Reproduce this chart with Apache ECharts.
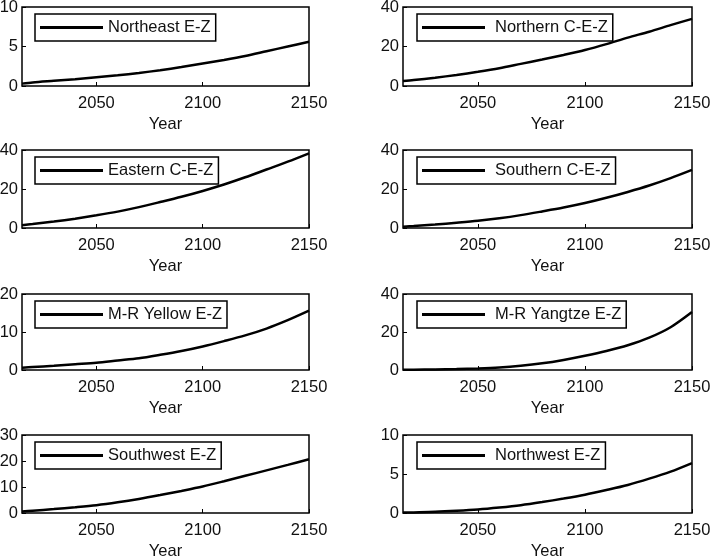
<!DOCTYPE html>
<html>
<head>
<meta charset="utf-8">
<script src="https://cdn.jsdelivr.net/npm/echarts@6/dist/echarts.min.js"></script>
<style>
  html, body { margin: 0; padding: 0; background: #fff; }
  #chart { width: 712px; height: 559px; }
</style>
</head>
<body>
<div id="chart"></div>
<script>
// years sampled along the curves
var years = [2015, 2020, 2030, 2040, 2050, 2060, 2070, 2080, 2090, 2100, 2110, 2120, 2130, 2140, 2150];
var xTicks = [2050, 2100, 2150];

var northeast = [0.3, 0.45, 0.65, 0.85, 1.1, 1.35, 1.65, 2.0, 2.4, 2.85, 3.3, 3.8, 4.4, 5.0, 5.6];
var northern  = [2.5, 3.0, 4.2, 5.6, 7.2, 9.0, 11.2, 13.4, 15.7, 18.2, 21.2, 24.5, 27.5, 30.8, 34.0];
var eastern   = [1.4, 2.0, 3.3, 4.8, 6.5, 8.4, 10.7, 13.3, 16.0, 19.0, 22.3, 26.0, 30.0, 34.0, 38.3];
var southern  = [0.7, 1.0, 1.8, 2.7, 3.7, 5.0, 6.6, 8.5, 10.5, 12.8, 15.5, 18.5, 21.8, 25.6, 29.8];
var yellow    = [0.6, 0.8, 1.1, 1.5, 1.9, 2.5, 3.1, 4.0, 5.0, 6.2, 7.6, 9.1, 10.9, 13.1, 15.6];
var yangtze   = [0.1, 0.15, 0.3, 0.5, 0.8, 1.3, 2.2, 3.5, 5.3, 7.5, 10.0, 13.0, 17.0, 22.5, 30.5];
var southwest = [0.6, 0.9, 1.5, 2.2, 3.0, 4.1, 5.4, 6.9, 8.5, 10.2, 12.2, 14.3, 16.4, 18.5, 20.7];
var northwest = [0.05, 0.08, 0.15, 0.28, 0.45, 0.7, 1.0, 1.4, 1.85, 2.35, 2.95, 3.6, 4.4, 5.3, 6.4];

var names = ['Northeast E-Z', 'Northern C-E-Z', 'Eastern C-E-Z', 'Southern C-E-Z',
             'M-R Yellow E-Z', 'M-R Yangtze E-Z', 'Southwest E-Z', 'Northwest E-Z'];
var values = [northeast, northern, eastern, southern, yellow, yangtze, southwest, northwest];
var yMax = [10, 40, 40, 40, 20, 40, 30, 10];
var yStep = [5, 20, 20, 20, 10, 20, 10, 5];

// layout
var colLeft = [22, 403];
var colWidth = [287, 289];
var rowTop = [7, 150, 294, 435];
var rowHeight = [79, 78, 76, 78];

var font = 'Liberation Sans, Arial, sans-serif';
var txt = '#111';
var fs = 16.5;

var grids = [], xAxes = [], yAxes = [], series = [], legends = [];

for (var i = 0; i < 8; i++) {
  var c = i % 2, r = Math.floor(i / 2);
  grids.push({
    left: colLeft[c], top: rowTop[r], width: colWidth[c], height: rowHeight[r],
    show: true, borderColor: '#000', borderWidth: 1.5, backgroundColor: '#fff',
    outerBoundsMode: 'none'
  });
  xAxes.push({
    type: 'value', gridIndex: i, min: 2015, max: 2150,
    name: 'Year', nameLocation: 'middle', nameGap: 30,
    nameTextStyle: { color: txt, fontSize: fs, fontFamily: font },
    axisLine: { show: false },
    axisTick: { show: true, inside: true, length: 4, lineStyle: { color: '#000' }, customValues: xTicks },
    axisLabel: {
      color: txt, fontSize: fs, fontFamily: font, margin: 9, customValues: xTicks,
      formatter: function (v) { return String(v); }
    },
    splitLine: { show: false }
  });
  yAxes.push({
    type: 'value', gridIndex: i, min: 0, max: yMax[i], interval: yStep[i],
    axisLine: { show: false },
    axisTick: { show: true, inside: true, length: 4, lineStyle: { color: '#000' } },
    axisLabel: { color: txt, fontSize: fs, fontFamily: font, margin: 4 },
    splitLine: { show: false }
  });
  series.push({
    name: names[i], type: 'line', xAxisIndex: i, yAxisIndex: i,
    showSymbol: false, smooth: 0.3,
    lineStyle: { color: '#000', width: 2.5 },
    itemStyle: { color: '#000' },
    data: years.map(function (y, k) { return [y, values[i][k]]; })
  });
  legends.push({
    data: [names[i]],
    left: colLeft[c] + (c ? 14 : 13), top: rowTop[r] + 7,
    orient: 'horizontal',
    backgroundColor: '#fff', borderColor: '#000', borderWidth: 1.5, borderRadius: 0,
    padding: [5, 5, 5, 5],
    itemWidth: 63, itemHeight: 18,
    icon: 'path://M0,0L63,0L63,3L0,3Z',
    itemStyle: { color: '#000' },
    selectedMode: false,
    textStyle: { color: txt, fontSize: fs, fontFamily: font, padding: c ? [0, 0, 0, 5] : 0 }
  });
}

var myChart = echarts.init(document.getElementById('chart'));
myChart.setOption({
  animation: false,
  backgroundColor: '#fff',
  grid: grids,
  xAxis: xAxes,
  yAxis: yAxes,
  legend: legends,
  series: series
});
</script>
</body>
</html>
